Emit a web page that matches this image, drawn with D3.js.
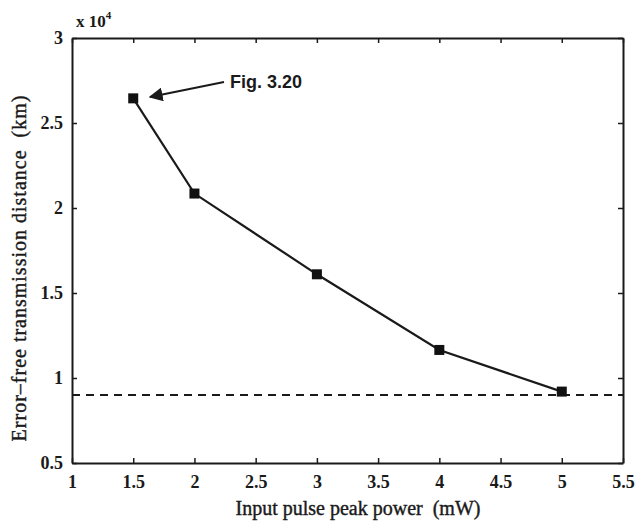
<!DOCTYPE html>
<html>
<head>
<meta charset="utf-8">
<script src="https://cdn.jsdelivr.net/npm/d3@7"></script>
<style>
  body { margin: 0; background: #fff; }
  .axis path, .axis line { stroke: #1a1a1a; }
</style>
</head>
<body>
<svg id="chart"></svg>
<script>
// data: peak power (mW) vs error-free distance (x10^4 km)
const powerMW = [1.5, 2, 3, 4, 5];
const distance = [2.645, 2.085, 1.61, 1.165, 0.92];
const thresholdLevel = 0.9;
const xTicks = [1, 1.5, 2, 2.5, 3, 3.5, 4, 4.5, 5, 5.5];
const yTicks = [0.5, 1, 1.5, 2, 2.5, 3];

const serif = '"Liberation Serif", "DejaVu Serif", serif';

const config = {
  width: 636,
  height: 524,
  margin: {top: 38, right: 13, bottom: 61, left: 72}
};

const svg = d3.select('#chart')
    .attr('width', config.width)
    .attr('height', config.height);

const width = config.width - config.margin.left - config.margin.right;
const height = config.height - config.margin.top - config.margin.bottom;

const chart = svg.append('g')
    .attr('transform', `translate(${config.margin.left},${config.margin.top})`);

const xScale = d3.scaleLinear().domain([1, 5.5]).range([0, width]);
const yScale = d3.scaleLinear().domain([0.5, 3]).range([height, 0]);

const fmt = d => String(d);

// axes with inward ticks on all four sides (box)
const xAxisBottom = d3.axisBottom(xScale).tickValues(xTicks).tickSize(-5).tickSizeOuter(0).tickPadding(12).tickFormat(fmt);
const xAxisTop = d3.axisTop(xScale).tickValues(xTicks).tickSize(-5).tickSizeOuter(0).tickFormat('');
const yAxisLeft = d3.axisLeft(yScale).tickValues(yTicks).tickSize(-5).tickSizeOuter(0).tickPadding(9).tickFormat(fmt);
const yAxisRight = d3.axisRight(yScale).tickValues(yTicks).tickSize(-5).tickSizeOuter(0).tickFormat('');

const gxb = chart.append('g').attr('class', 'axis').attr('transform', `translate(0,${height})`).call(xAxisBottom);
const gxt = chart.append('g').attr('class', 'axis').call(xAxisTop);
const gyl = chart.append('g').attr('class', 'axis').call(yAxisLeft);
const gyr = chart.append('g').attr('class', 'axis').attr('transform', `translate(${width},0)`).call(yAxisRight);

[gxb, gxt, gyl, gyr].forEach(g => {
  g.attr('font-family', serif).attr('font-size', 18).attr('font-weight', 'bold');
  g.select('.domain').attr('stroke-width', 2);
  g.selectAll('.tick line').attr('stroke-width', 1.5);
  g.selectAll('.tick text').attr('fill', '#1a1a1a');
});

// exponent label
svg.append('text')
    .attr('x', config.margin.left + 4)
    .attr('y', 27)
    .attr('font-family', serif)
    .attr('font-size', 17)
    .attr('font-weight', 'bold')
    .attr('fill', '#1a1a1a')
    .text('x 10')
  .append('tspan')
    .attr('dy', -8)
    .attr('font-size', 11)
    .text('4');

// dashed threshold line
chart.append('line')
    .attr('x1', 0)
    .attr('x2', width)
    .attr('y1', yScale(thresholdLevel))
    .attr('y2', yScale(thresholdLevel))
    .attr('stroke', '#1a1a1a')
    .attr('stroke-width', 2.2)
    .attr('stroke-dasharray', '8,6');

// main curve
const line = d3.line()
    .x((d, i) => xScale(powerMW[i]))
    .y(d => yScale(d));

chart.append('path')
    .datum(distance)
    .attr('fill', 'none')
    .attr('stroke', '#1a1a1a')
    .attr('stroke-width', 2.2)
    .attr('d', line);

chart.selectAll('.marker')
    .data(distance)
  .join('rect')
    .attr('class', 'marker')
    .attr('x', (d, i) => xScale(powerMW[i]) - 5)
    .attr('y', d => yScale(d) - 5)
    .attr('width', 10)
    .attr('height', 10)
    .attr('fill', '#111');

// annotation arrow
svg.append('defs').append('marker')
    .attr('id', 'arrow')
    .attr('viewBox', '0 0 10 10')
    .attr('refX', 9).attr('refY', 5)
    .attr('markerWidth', 7).attr('markerHeight', 7)
    .attr('orient', 'auto-start-reverse')
  .append('path')
    .attr('d', 'M0,0 L10,5 L0,10 z')
    .attr('fill', '#1a1a1a');

svg.append('line')
    .attr('x1', 224).attr('y1', 82)
    .attr('x2', 150).attr('y2', 97)
    .attr('stroke', '#1a1a1a')
    .attr('stroke-width', 2)
    .attr('marker-end', 'url(#arrow)');

svg.append('text')
    .attr('x', 230)
    .attr('y', 88)
    .attr('font-family', '"Liberation Sans", Arial, sans-serif')
    .attr('font-size', 18)
    .attr('font-weight', 'bold')
    .attr('fill', '#1a1a1a')
    .text('Fig. 3.20');

// axis titles
svg.append('text')
    .attr('x', 358)
    .attr('y', 515)
    .attr('text-anchor', 'middle')
    .attr('font-family', serif)
    .attr('font-size', 20)
    .attr('fill', '#1a1a1a')
    .attr('stroke', '#1a1a1a')
    .attr('stroke-width', 0.4)
    .attr('xml:space', 'preserve')
    .text('Input pulse peak power  (mW)');

svg.append('text')
    .attr('transform', `translate(26,268) rotate(-90)`)
    .attr('text-anchor', 'middle')
    .attr('font-family', serif)
    .attr('font-size', 20)
    .attr('letter-spacing', 1)
    .attr('fill', '#1a1a1a')
    .attr('stroke', '#1a1a1a')
    .attr('stroke-width', 0.4)
    .attr('xml:space', 'preserve')
    .text('Error\u2013free transmission distance  (km)');
</script>
</body>
</html>
